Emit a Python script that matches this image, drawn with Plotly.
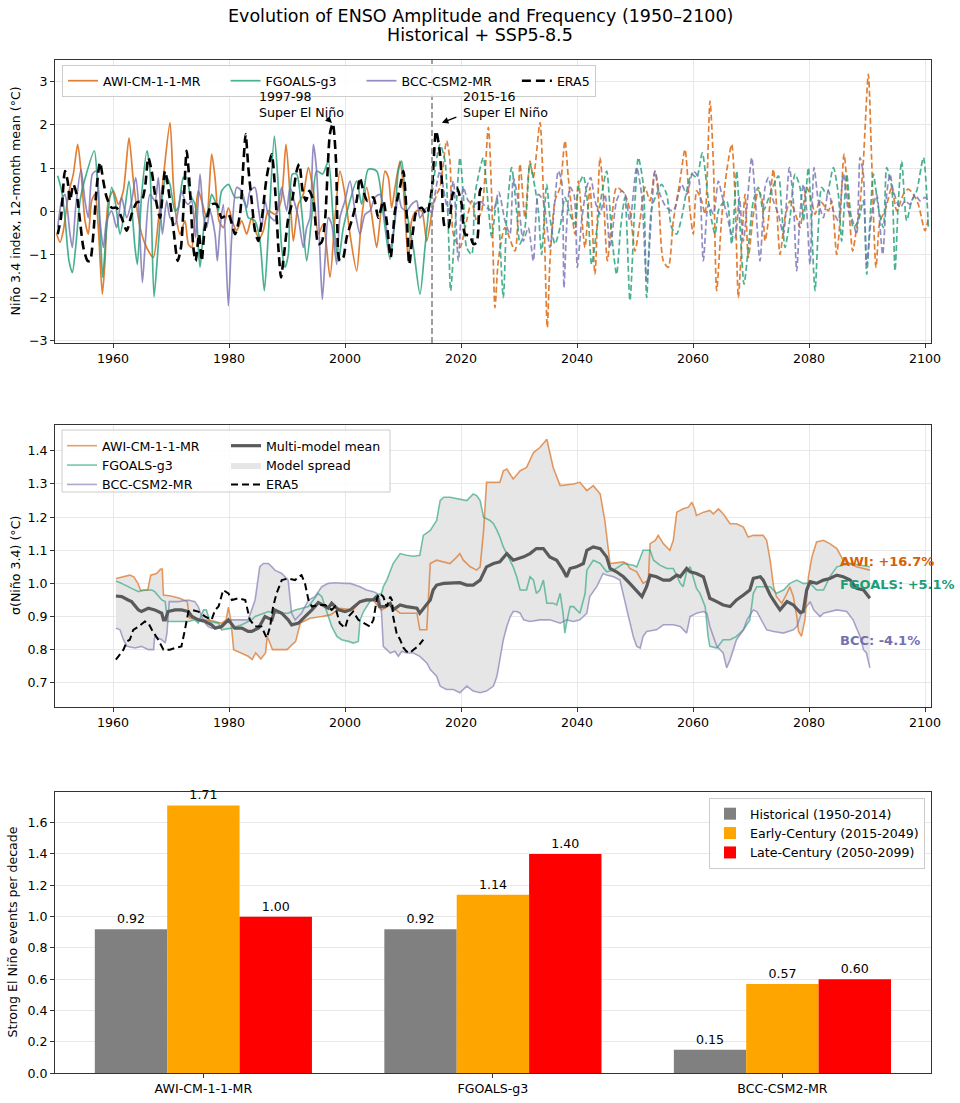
import plotly.graph_objects as go

# ---------------- DATA ----------------
# Top panel: Nino 3.4 index (12-month mean), (year, value)
era5_anom = [(1950.46,-0.53),(1951.03,-0.15),(1951.72,0.93),(1952.18,0.70),(1952.59,0.24),(1953.16,0.62),(1953.74,0.39),(1954.31,-0.22),(1954.89,-0.84),(1955.63,-1.15),(1956.03,-1.15),(1956.61,-0.53),(1957.18,0.55),(1957.76,1.13),(1958.33,0.70),(1958.91,0.32),(1959.77,0.08),(1960.63,0.08),(1961.49,-0.15),(1962.36,-0.45),(1963.22,-0.07),(1964.08,0.20),(1964.94,0.24),(1965.52,0.55),(1966.09,1.24),(1966.67,0.93),(1967.24,0.39),(1968.10,-0.15),(1968.97,0.93),(1969.83,0.24),(1970.40,-0.38),(1971.15,-1.15),(1971.72,-0.84),(1972.13,0.01),(1972.70,1.40),(1973.28,0.47),(1973.85,-0.84),(1974.25,-1.15),(1974.83,-0.53),(1975.29,-1.15),(1975.86,-0.38),(1977.01,0.16),(1977.87,0.16),(1978.74,-0.15),(1979.89,-0.07),(1981.03,-0.53),(1981.90,-0.07),(1982.47,1.09),(1982.87,1.78),(1983.33,1.01),(1983.91,0.24),(1984.48,-0.45),(1985.06,-0.69),(1985.63,-0.22),(1986.49,0.78),(1987.36,1.32),(1987.93,0.55),(1988.51,-0.84),(1988.97,-1.53),(1989.36,-1.15),(1990.23,-0.15),(1990.80,0.16),(1991.66,0.93),(1992.12,1.09),(1992.70,0.47),(1993.27,0.24),(1993.85,0.47),(1994.54,0.24),(1995.40,-0.76),(1995.97,-0.72),(1996.55,-0.22),(1997.41,1.80),(1997.90,2.03),(1998.45,1.16),(1998.85,-1.0),(1999.13,-1.15),(1999.71,-1.07),(2000.28,-0.61),(2001.15,-0.22),(2002.01,0.24),(2002.58,0.78),(2003.16,0.47),(2003.85,0.24),(2004.88,0.32),(2005.74,-0.15),(2006.61,0.24),(2007.18,-0.22),(2007.87,-1.07),(2008.62,0.01),(2009.48,0.55),(2010.06,0.93),(2010.63,-0.07),(2011.09,-1.23),(2011.66,-0.53),(2012.35,0.01),(2013.22,0.08),(2014.08,-0.07),(2014.94,0.47),(2015.69,1.86),(2016.26,1.47),(2016.66,0.78),(2017.24,-0.38),(2017.81,-0.38),(2018.56,0.39),(2019.25,0.55),(2020.11,0.16),(2020.69,-0.53),(2021.55,-0.57),(2022.12,-0.76),(2022.70,-0.72),(2023.27,0.47),(2023.56,0.55)]

awi_hist = [(1950.29,-0.53),(1950.86,-0.72),(1951.44,-0.45),(1952.30,0.39),(1953.16,0.86),(1953.91,1.55),(1954.48,0.93),(1955.17,-0.22),(1955.75,-0.53),(1956.32,0.24),(1956.90,0.39),(1957.47,-0.38),(1958.16,-1.92),(1958.62,-1.15),(1959.20,0.24),(1960.06,0.47),(1960.92,0.16),(1961.78,0.47),(1962.76,1.70),(1963.51,0.70),(1964.37,-0.15),(1964.94,-0.53),(1965.80,-0.84),(1966.95,-1.07),(1967.82,-0.22),(1968.68,0.78),(1969.83,2.05),(1970.40,0.62),(1970.98,-0.22),(1971.55,-0.53),(1972.41,-0.22),(1972.99,-0.76),(1973.56,-0.84),(1974.14,-0.15),(1974.71,0.47),(1975.29,0.24),(1976.15,-0.15),(1977.01,1.32),(1977.59,0.78),(1978.28,-0.22),(1979.02,-0.38),(1979.89,0.08),(1980.75,-0.30),(1981.32,-0.45),(1982.18,-0.22),(1983.05,-0.53),(1983.91,-0.15),(1984.77,-0.53),(1985.34,-0.61),(1985.92,-0.45),(1986.78,0.01),(1987.93,-0.07),(1988.97,0.24),(1989.83,1.55),(1990.52,0.39),(1991.09,-0.69),(1991.95,0.16),(1992.81,0.39),(1993.68,1.01),(1994.54,0.47),(1995.40,-0.53),(1996.26,-0.30),(1997.41,-1.53),(1998.27,-0.15),(1999.13,0.93),(1999.99,0.39),(2000.86,-0.53),(2002.01,-1.38),(2002.87,-0.15),(2003.73,0.55),(2004.59,-0.07),(2005.46,-0.84),(2006.03,-0.22),(2006.89,0.93),(2007.47,0.78),(2008.04,0.08),(2008.62,0.55),(2009.48,1.16),(2010.06,0.55),(2010.92,-1.15),(2011.49,-0.22),(2012.35,0.01),(2013.22,0.01),(2014.08,-0.69),(2015.00,0.01)]

awi_ssp = [(2015.00,0.01),(2015.80,0.39),(2016.38,0.55),(2017.53,1.63),(2018.10,1.16),(2018.68,-0.53),(2019.82,-0.84),(2020.97,-0.22),(2021.84,0.24),(2022.70,-0.22),(2023.56,0.01),(2024.71,1.94),(2025.28,0.39),(2025.86,-2.23),(2026.43,-1.15),(2027.58,-0.38),(2029.31,-0.92),(2030.17,1.09),(2031.03,-0.15),(2031.89,1.16),(2032.47,0.78),(2033.62,2.05),(2034.19,0.47),(2034.88,-2.69),(2035.34,-1.15),(2036.20,0.24),(2037.06,0.55),(2037.93,1.63),(2038.50,0.78),(2039.65,-0.53),(2040.23,0.70),(2041.37,-0.84),(2042.24,0.55),(2043.10,-1.46),(2043.96,1.24),(2044.54,0.39),(2045.23,-1.15),(2045.97,-0.22),(2046.83,0.55),(2048.27,0.39),(2049.13,0.01),(2050.00,-0.92),(2050.86,-0.22),(2051.72,0.55),(2052.58,0.24),(2053.44,0.93),(2054.02,0.39),(2054.88,-1.15),(2055.74,-1.30),(2056.61,-0.22),(2057.75,0.70),(2058.62,1.43),(2059.48,0.01),(2060.05,-0.53),(2060.63,0.47),(2061.49,0.24),(2062.07,-0.07),(2062.93,2.55),(2063.50,1.16),(2064.08,-1.84),(2064.95,-0.15),(2065.81,0.93),(2066.67,1.55),(2067.24,0.39),(2067.82,-2.00),(2068.39,-0.76),(2068.97,0.39),(2069.54,-1.07),(2070.41,-0.07),(2071.27,0.47),(2071.84,0.32),(2072.42,-0.69),(2072.99,-0.22),(2073.85,0.97),(2074.43,0.08),(2075.00,-1.00),(2075.87,-0.15),(2076.73,0.24),(2077.88,-0.15),(2078.45,-0.38),(2079.60,0.55),(2080.46,0.24),(2081.04,-0.07),(2081.90,0.24),(2083.34,0.01),(2083.91,0.24),(2084.77,-1.00),(2085.35,-0.22),(2086.04,1.32),(2086.79,0.24),(2087.53,-0.92),(2088.22,-0.38),(2088.68,0.01),(2089.37,1.16),(2090.23,3.17),(2090.81,1.16),(2091.55,-1.30),(2092.24,-0.22),(2093.11,0.01),(2094.26,0.55),(2095.12,0.01),(2096.27,0.39),(2097.13,0.51),(2097.99,0.39),(2098.85,0.16),(2100.00,-0.45),(2100.58,-0.15)]

fgoals_hist = [(1950.46,0.82),(1951.15,0.47),(1951.72,-0.15),(1952.41,-1.15),(1952.99,-1.42),(1953.56,-0.84),(1954.31,0.24),(1955.17,0.75),(1956.78,1.40),(1957.36,0.55),(1957.93,-0.84),(1958.22,-1.53),(1958.91,-0.38),(1959.77,0.55),(1960.46,0.16),(1961.21,-0.53),(1962.07,0.08),(1962.76,0.70),(1963.79,-0.84),(1964.20,-1.23),(1964.94,0.39),(1965.86,1.40),(1966.38,0.93),(1967.07,-1.98),(1967.82,-0.76),(1968.68,0.55),(1969.25,0.78),(1969.83,0.62),(1970.69,0.01),(1971.26,0.08),(1972.13,0.78),(1972.70,0.78),(1973.28,0.39),(1974.14,0.16),(1975.00,-1.30),(1975.86,-0.15),(1976.44,0.01),(1977.01,0.39),(1977.59,0.24),(1978.16,0.01),(1978.74,0.47),(1979.89,0.62),(1981.03,0.32),(1982.18,0.32),(1982.76,0.16),(1983.33,-0.15),(1984.48,-0.22),(1985.34,-0.69),(1986.09,-1.84),(1986.78,-0.53),(1987.82,1.74),(1988.51,0.55),(1989.08,-0.84),(1989.66,-1.30),(1990.23,-1.00),(1990.92,0.86),(1991.66,0.86),(1992.53,0.01),(1993.39,-1.15),(1994.25,-0.15),(1995.11,0.93),(1996.15,0.86),(1997.12,1.16),(1997.99,-0.22),(1998.85,-1.15),(1999.71,-0.38),(2000.86,0.24),(2002.01,0.70),(2002.87,0.16),(2004.02,0.97),(2005.46,0.93),(2006.61,-0.07),(2007.76,-1.11),(2008.62,-0.15),(2009.19,0.93),(2009.77,1.16),(2010.63,0.01),(2011.78,-0.84),(2012.93,-1.92),(2013.79,-0.84),(2014.65,0.24),(2015.00,0.40)]

fgoals_ssp = [(2015.00,0.40),(2016.38,1.55),(2017.24,1.16),(2017.81,-0.38),(2018.21,-1.84),(2018.96,-0.38),(2019.82,1.24),(2020.40,0.39),(2020.97,-0.84),(2021.84,-1.00),(2022.41,0.39),(2023.85,1.24),(2024.42,0.55),(2025.30,-0.60),(2026.20,0.30),(2027.29,-2.00),(2027.87,-0.15),(2028.73,1.01),(2029.59,0.01),(2030.17,-0.76),(2031.03,-0.38),(2031.89,1.09),(2032.75,0.55),(2033.33,0.01),(2033.90,-1.00),(2034.77,0.62),(2035.34,-0.15),(2036.20,-0.76),(2037.06,-0.38),(2037.93,0.32),(2038.79,-0.07),(2039.65,-0.30),(2040.23,0.55),(2041.09,0.82),(2041.78,0.24),(2042.52,-1.23),(2043.39,-0.45),(2044.25,0.39),(2045.11,0.93),(2045.97,-0.53),(2046.83,-1.46),(2047.52,-0.38),(2048.27,0.32),(2049.13,-2.07),(2050.00,0.24),(2050.57,1.24),(2051.43,0.62),(2052.01,-2.00),(2052.87,0.08),(2053.73,0.39),(2054.59,0.62),(2055.46,0.39),(2056.32,-0.38),(2057.18,-0.53),(2058.04,-0.15),(2058.90,0.47),(2059.77,0.86),(2060.63,0.78),(2061.60,1.35),(2062.65,0.24),(2063.22,-0.22),(2063.80,-0.53),(2064.37,0.01),(2064.95,0.16),(2065.81,0.24),(2066.67,-0.76),(2067.53,0.93),(2068.11,-0.38),(2068.80,-1.69),(2069.54,-0.84),(2070.41,0.24),(2071.27,0.55),(2072.13,0.01),(2073.28,0.39),(2074.72,0.82),(2075.29,0.01),(2075.87,-0.84),(2076.73,-0.15),(2077.59,0.86),(2078.45,0.55),(2079.03,-0.22),(2079.89,1.01),(2080.46,-0.38),(2081.04,-1.84),(2081.61,-0.38),(2082.19,0.55),(2083.05,0.39),(2084.20,1.01),(2085.06,0.39),(2085.63,-0.69),(2086.50,0.86),(2087.07,0.08),(2087.65,-0.38),(2088.51,-0.22),(2089.37,0.24),(2089.95,-1.46),(2090.52,-0.22),(2091.10,0.86),(2091.96,0.08),(2092.82,-0.38),(2093.39,1.01),(2094.26,0.55),(2094.83,-1.38),(2095.41,0.24),(2095.98,1.16),(2096.84,-0.22),(2097.70,0.24),(2098.57,0.47),(2099.72,1.24),(2100.58,-0.38)]

bcc_hist = [(1950.46,-0.38),(1951.15,0.24),(1951.72,0.39),(1952.59,-0.53),(1952.99,-0.84),(1953.56,0.08),(1954.48,0.97),(1955.17,0.24),(1955.75,-0.15),(1956.44,0.86),(1957.13,0.93),(1957.76,-0.22),(1958.33,-0.84),(1958.91,-0.22),(1959.77,0.01),(1960.63,-0.38),(1961.49,0.32),(1962.36,-0.15),(1963.22,0.24),(1963.91,0.78),(1964.37,0.24),(1965.06,-1.65),(1965.52,-0.84),(1966.38,0.39),(1967.24,0.24),(1967.82,0.78),(1968.51,-0.53),(1969.25,0.24),(1969.83,-0.15),(1970.69,-0.30),(1971.84,0.47),(1972.41,0.24),(1972.99,0.16),(1973.56,0.24),(1974.25,-0.61),(1975.00,0.86),(1975.57,-0.07),(1976.15,-0.38),(1976.72,0.01),(1977.59,-0.53),(1977.99,-1.15),(1978.45,-0.38),(1979.02,0.16),(1979.89,-2.19),(1980.46,-0.61),(1981.32,0.55),(1982.18,0.47),(1983.05,0.08),(1983.62,0.47),(1984.48,0.55),(1985.06,0.08),(1985.63,-0.38),(1986.21,0.24),(1986.78,-0.07),(1987.93,-0.22),(1988.51,0.16),(1989.08,0.55),(1989.94,0.01),(1990.52,0.55),(1991.38,0.16),(1991.95,-0.15),(1992.81,-0.84),(1993.39,-0.38),(1993.96,-0.15),(1994.54,1.55),(1995.11,0.93),(1995.69,-1.00),(1996.09,-2.04),(1996.55,-1.15),(1997.12,-0.15),(1997.70,-0.30),(1998.56,-1.23),(1999.13,-0.15),(1999.99,0.24),(2000.86,0.70),(2001.72,0.01),(2002.58,-0.53),(2003.45,-0.07),(2004.31,0.01),(2005.17,0.32),(2006.03,0.39),(2006.89,-0.15),(2007.76,-0.92),(2008.62,-0.22),(2009.19,0.39),(2009.77,0.08),(2010.63,0.01),(2011.49,0.16),(2012.35,0.24),(2012.93,-0.15),(2014.08,0.08),(2015.00,-0.05)]

bcc_ssp = [(2015.00,-0.05),(2016.38,0.93),(2017.24,0.32),(2017.81,0.01),(2018.68,0.70),(2019.54,-1.15),(2020.40,0.55),(2021.26,0.24),(2022.41,0.16),(2023.27,0.24),(2024.42,0.08),(2025.57,0.01),(2026.50,0.45),(2027.58,-0.22),(2028.44,-0.53),(2029.02,0.78),(2029.88,0.24),(2030.74,-0.69),(2031.61,-0.38),(2032.47,-1.15),(2033.33,0.39),(2034.19,0.24),(2035.34,-0.84),(2036.78,0.93),(2037.35,0.70),(2037.75,-1.77),(2038.21,-0.38),(2038.79,0.55),(2039.48,0.39),(2040.05,-1.30),(2040.80,-0.22),(2041.66,0.55),(2042.35,0.78),(2043.10,0.24),(2043.96,-0.07),(2044.82,0.39),(2045.69,-0.84),(2046.83,0.24),(2047.70,0.47),(2048.27,0.39),(2049.13,-0.22),(2050.28,1.01),(2051.14,0.39),(2052.01,-1.61),(2052.87,0.01),(2053.44,0.93),(2054.31,0.39),(2055.46,0.08),(2056.61,0.01),(2058.04,0.62),(2058.90,0.39),(2060.05,0.93),(2060.92,0.78),(2061.78,-1.15),(2062.65,0.16),(2063.51,-0.07),(2064.37,0.70),(2064.95,0.39),(2065.81,-0.07),(2066.67,-0.53),(2067.24,-0.61),(2067.99,0.32),(2068.68,-0.69),(2070.12,1.24),(2070.69,0.39),(2071.55,-1.15),(2072.42,0.55),(2072.99,0.78),(2073.85,0.24),(2074.72,-0.07),(2075.58,-0.53),(2076.61,1.01),(2077.30,0.24),(2077.88,-1.38),(2078.45,-0.07),(2079.03,0.62),(2079.60,0.01),(2080.17,-1.23),(2080.87,1.01),(2081.61,0.24),(2082.48,-0.15),(2083.34,0.47),(2084.20,0.01),(2085.06,-0.22),(2085.92,0.86),(2086.79,0.01),(2087.53,-0.22),(2088.22,-0.53),(2088.80,1.24),(2089.37,0.86),(2089.95,-1.23),(2090.81,-0.07),(2091.67,0.39),(2092.70,-1.00),(2093.39,0.39),(2093.97,0.86),(2094.54,0.47),(2095.70,0.08),(2096.56,0.24),(2097.42,0.16),(2098.28,0.39),(2099.14,0.24),(2100.00,0.32),(2100.58,0.24)]

# Middle panel: running std of Nino 3.4, (year, sigma)
awi_sigma = [(1960.5,1.015),(1961.5,1.02),(1962.9,1.025),(1963.6,1.02),(1964.3,1.0),(1964.8,0.978),(1966.0,0.98),(1966.5,1.025),(1967.5,1.03),(1968.2,1.043),(1968.5,1.043),(1968.7,0.965),(1970.0,0.962),(1971.5,0.955),(1972.8,0.945),(1973.2,0.895),(1975.0,0.892),(1977.0,0.888),(1978.7,0.88),(1979.5,0.89),(1979.9,0.928),(1980.3,0.89),(1980.8,0.80),(1982.0,0.79),(1983.3,0.78),(1984.0,0.77),(1984.6,0.79),(1985.5,0.772),(1986.3,0.79),(1986.6,0.84),(1987.5,0.80),(1990.0,0.80),(1991.5,0.825),(1992.3,0.88),(1994.0,0.895),(1996.0,0.90),(1997.5,0.905),(1999.1,0.925),(2001.4,0.92),(2002.6,0.945),(2004.9,0.95),(2005.5,0.935),(2006.3,0.92),(2007.8,0.935),(2009.5,0.91),(2012.4,0.91),(2012.9,0.86),(2014.1,0.86),(2014.5,1.01),(2014.7,1.06),(2015.8,1.07),(2018.1,1.06),(2019.3,1.08),(2019.8,1.09),(2020.4,1.07),(2021.6,1.05),(2022.7,1.04),(2023.3,1.05),(2023.9,1.16),(2024.4,1.305),(2026.7,1.305),(2027.3,1.34),(2027.9,1.345),(2029.0,1.315),(2030.2,1.34),(2031.3,1.35),(2032.5,1.395),(2033.6,1.41),(2034.8,1.435),(2035.3,1.40),(2035.9,1.35),(2037.1,1.295),(2039.4,1.30),(2040.5,1.305),(2041.7,1.28),(2042.8,1.295),(2044.0,1.27),(2044.8,1.19),(2045.7,1.06),(2048.0,1.065),(2048.6,1.06),(2049.1,1.045),(2050.3,1.035),(2051.4,1.0),(2052.3,1.01),(2052.6,1.12),(2053.5,1.13),(2054.0,1.145),(2054.9,1.12),(2056.0,1.10),(2056.6,1.13),(2057.2,1.215),(2058.3,1.225),(2059.2,1.23),(2059.8,1.245),(2060.3,1.225),(2060.6,1.205),(2061.8,1.215),(2062.9,1.22),(2063.5,1.21),(2064.4,1.225),(2065.2,1.21),(2066.4,1.18),(2067.5,1.18),(2068.7,1.17),(2069.5,1.14),(2070.4,1.145),(2072.1,1.145),(2072.7,1.13),(2073.3,1.07),(2073.9,0.99),(2074.4,0.96),(2075.3,0.94),(2076.2,0.97),(2076.7,0.99),(2077.3,0.96),(2077.9,0.90),(2078.2,0.855),(2078.7,0.84),(2079.3,0.89),(2079.9,1.02),(2080.5,1.08),(2081.3,1.125),(2082.5,1.13),(2083.6,1.12),(2084.8,1.105),(2085.9,1.07),(2088.2,1.05),(2090.5,1.04)]

fgoals_sigma = [(1960.5,1.007),(1961.5,1.0),(1963.2,0.985),(1964.4,0.975),(1965.2,0.98),(1966.7,0.98),(1967.2,0.975),(1968.4,0.95),(1969.0,0.945),(1969.4,0.885),(1973.0,0.885),(1974.1,0.89),(1974.7,0.88),(1975.6,0.92),(1976.1,0.92),(1976.7,0.885),(1978.2,0.88),(1978.7,0.86),(1980.5,0.865),(1982.2,0.875),(1983.9,0.89),(1984.5,0.90),(1986.8,0.915),(1987.9,0.91),(1990.2,0.91),(1991.4,0.92),(1993.7,0.93),(1995.4,0.97),(1996.0,0.96),(1996.6,0.93),(1997.1,0.90),(1997.7,0.87),(1998.6,0.84),(1999.4,0.83),(2000.6,0.825),(2001.4,0.82),(2002.3,0.825),(2002.6,0.89),(2003.2,0.915),(2004.3,0.945),(2005.5,0.965),(2006.3,0.97),(2006.6,0.99),(2007.2,1.01),(2008.3,1.06),(2009.5,1.09),(2010.6,1.085),(2011.8,1.082),(2012.9,1.085),(2013.5,1.145),(2014.7,1.16),(2015.8,1.19),(2016.4,1.25),(2017.0,1.26),(2018.1,1.26),(2019.3,1.255),(2021.0,1.25),(2022.1,1.27),(2022.7,1.265),(2023.3,1.25),(2023.9,1.20),(2025.0,1.19),(2025.6,1.18),(2026.2,1.16),(2026.7,1.14),(2027.3,1.11),(2027.9,1.09),(2029.0,1.05),(2029.6,1.02),(2030.2,0.98),(2031.3,0.98),(2031.9,1.02),(2032.5,1.01),(2033.0,0.97),(2033.6,0.98),(2034.2,1.01),(2034.8,0.94),(2035.9,0.94),(2036.5,0.935),(2037.1,0.97),(2037.6,0.91),(2037.9,0.85),(2038.2,0.88),(2038.8,0.93),(2039.4,0.93),(2040.5,0.91),(2041.4,0.97),(2041.7,1.04),(2042.8,1.07),(2044.0,1.06),(2045.1,1.035),(2046.3,1.04),(2048.0,1.06),(2049.7,1.055),(2050.3,1.05),(2051.4,1.10),(2052.6,1.10),(2053.2,1.07),(2054.3,1.055),(2055.5,1.045),(2056.6,1.045),(2057.8,1.0),(2058.3,0.99),(2058.9,1.035),(2059.5,1.05),(2060.6,0.985),(2061.2,0.97),(2062.1,0.93),(2062.6,0.84),(2062.9,0.81),(2064.1,0.805),(2065.2,0.83),(2066.4,0.83),(2067.5,0.84),(2068.7,0.86),(2069.8,0.89),(2070.4,0.97),(2071.0,0.99),(2073.3,0.99),(2074.4,0.97),(2075.6,0.98),(2076.7,1.0),(2077.9,1.01),(2079.0,1.0),(2080.2,1.0),(2081.3,0.98),(2082.5,0.98),(2083.6,1.02),(2084.8,1.05),(2087.1,1.06),(2090.5,1.05)]

bcc_sigma = [(1960.5,0.865),(1961.2,0.86),(1961.8,0.83),(1962.4,0.81),(1963.8,0.805),(1964.9,0.81),(1966.1,0.80),(1967.0,0.80),(1967.2,0.84),(1968.4,0.83),(1969.0,0.82),(1969.3,0.85),(1969.7,0.945),(1971.3,0.945),(1973.0,0.95),(1974.1,0.945),(1974.7,0.93),(1975.3,0.90),(1975.9,0.88),(1976.4,0.87),(1977.0,0.865),(1978.7,0.865),(1979.9,0.89),(1981.0,0.89),(1982.2,0.892),(1983.3,0.89),(1984.5,0.95),(1985.3,1.05),(1985.9,1.06),(1986.8,1.06),(1987.4,1.05),(1987.9,1.04),(1989.1,1.03),(1989.7,1.02),(1990.2,1.01),(1990.8,0.91),(1991.4,0.89),(1992.5,0.91),(1993.7,0.95),(1994.8,0.96),(1996.0,0.99),(1997.1,1.0),(1998.3,1.002),(2000.0,1.0),(2000.9,1.0),(2002.6,0.99),(2003.7,0.98),(2004.9,0.975),(2005.5,0.97),(2006.0,0.95),(2006.3,0.91),(2006.6,0.81),(2007.2,0.80),(2007.8,0.79),(2008.6,0.795),(2009.2,0.78),(2009.8,0.795),(2010.6,0.79),(2011.8,0.79),(2012.9,0.78),(2014.1,0.76),(2014.7,0.74),(2015.8,0.72),(2016.4,0.69),(2017.5,0.68),(2018.7,0.68),(2019.8,0.67),(2021.0,0.69),(2022.1,0.675),(2023.3,0.67),(2024.4,0.675),(2025.6,0.69),(2026.2,0.72),(2026.7,0.77),(2027.3,0.83),(2027.9,0.87),(2028.5,0.90),(2029.0,0.915),(2029.6,0.915),(2030.2,0.91),(2030.8,0.89),(2031.9,0.885),(2033.6,0.89),(2035.3,0.89),(2037.1,0.88),(2038.2,0.89),(2039.4,0.885),(2040.5,0.89),(2041.7,0.91),(2042.2,0.96),(2043.4,0.99),(2044.5,1.03),(2045.1,1.025),(2046.3,1.02),(2047.4,1.01),(2048.6,0.92),(2049.7,0.84),(2050.3,0.81),(2050.9,0.805),(2051.4,0.84),(2052.0,0.855),(2053.7,0.86),(2054.9,0.875),(2056.6,0.875),(2057.8,0.87),(2058.9,0.85),(2059.5,0.90),(2060.6,0.91),(2061.8,0.915),(2062.4,0.91),(2062.9,0.87),(2064.1,0.81),(2065.2,0.79),(2065.8,0.745),(2066.4,0.77),(2067.5,0.83),(2068.7,0.86),(2069.3,0.89),(2070.4,0.92),(2071.0,0.915),(2072.1,0.88),(2072.7,0.86),(2073.9,0.855),(2075.6,0.85),(2077.3,0.86),(2077.9,0.87),(2078.5,0.90),(2079.0,0.92),(2079.6,0.93),(2080.2,0.945),(2080.8,0.92),(2081.9,0.90),(2082.5,0.91),(2083.6,0.915),(2084.8,0.92),(2086.5,0.915),(2087.6,0.89),(2088.8,0.84),(2089.4,0.80),(2089.9,0.79),(2090.5,0.745)]

mean_sigma = [(1960.5,0.962),(1961.5,0.96),(1962.6,0.95),(1963.2,0.945),(1964.4,0.92),(1964.9,0.915),(1966.1,0.925),(1967.2,0.92),(1968.4,0.91),(1968.7,0.89),(1969.0,0.89),(1969.5,0.915),(1970.7,0.92),(1971.8,0.92),(1973.0,0.915),(1973.6,0.90),(1974.7,0.89),(1975.9,0.885),(1977.0,0.875),(1977.6,0.865),(1978.7,0.87),(1979.9,0.89),(1981.0,0.865),(1982.2,0.865),(1983.3,0.855),(1983.9,0.855),(1985.1,0.865),(1986.2,0.90),(1987.4,0.89),(1987.9,0.92),(1989.1,0.91),(1990.2,0.89),(1990.8,0.875),(1992.0,0.88),(1993.1,0.90),(1994.3,0.92),(1995.4,0.942),(1996.0,0.935),(1997.1,0.925),(1997.7,0.94),(1998.9,0.92),(2000.0,0.915),(2000.9,0.92),(2002.6,0.945),(2003.7,0.95),(2004.9,0.95),(2005.5,0.96),(2006.0,0.93),(2006.9,0.93),(2007.8,0.94),(2008.3,0.92),(2009.5,0.935),(2010.6,0.93),(2012.4,0.925),(2012.9,0.91),(2013.8,0.93),(2014.7,0.95),(2015.2,0.98),(2015.8,0.995),(2017.0,1.0),(2018.1,1.0),(2019.8,1.002),(2021.0,0.995),(2022.1,0.995),(2023.3,1.01),(2024.4,1.05),(2025.6,1.06),(2026.7,1.065),(2027.9,1.09),(2029.0,1.07),(2030.8,1.08),(2031.9,1.09),(2033.0,1.105),(2034.2,1.105),(2035.3,1.08),(2036.5,1.07),(2037.6,1.04),(2038.2,1.02),(2038.8,1.045),(2039.9,1.05),(2041.1,1.06),(2041.7,1.10),(2042.8,1.11),(2044.0,1.105),(2045.1,1.08),(2045.7,1.045),(2046.8,1.035),(2048.0,1.02),(2049.1,1.0),(2050.3,0.975),(2051.2,0.96),(2052.0,0.99),(2052.6,1.025),(2053.7,1.02),(2054.9,1.01),(2056.0,1.01),(2057.2,1.025),(2057.8,1.02),(2058.3,1.03),(2058.9,1.045),(2059.5,1.035),(2060.6,1.03),(2061.8,1.02),(2062.9,0.955),(2064.1,0.945),(2065.2,0.935),(2066.4,0.93),(2066.9,0.94),(2067.5,0.95),(2068.7,0.965),(2069.8,0.98),(2070.4,1.015),(2071.6,1.02),(2072.1,1.01),(2073.3,0.965),(2074.4,0.935),(2075.0,0.92),(2076.2,0.945),(2077.3,0.935),(2078.5,0.912),(2079.0,0.915),(2079.6,0.98),(2080.2,1.005),(2081.3,1.0),(2082.5,1.01),(2083.6,1.015),(2084.8,1.025),(2085.9,1.02),(2087.1,1.01),(2088.2,0.985),(2089.4,0.98),(2090.5,0.955)]

era5_sigma = [(1960.5,0.77),(1961.2,0.785),(1961.8,0.80),(1962.4,0.825),(1962.9,0.83),(1963.5,0.86),(1964.4,0.87),(1965.5,0.885),(1966.1,0.88),(1966.7,0.86),(1967.8,0.83),(1968.7,0.80),(1969.8,0.80),(1970.7,0.805),(1971.8,0.81),(1972.4,0.86),(1973.0,0.915),(1973.6,0.92),(1974.7,0.915),(1975.9,0.90),(1977.0,0.89),(1977.6,0.92),(1978.2,0.93),(1979.0,0.98),(1979.9,0.97),(1980.5,0.95),(1981.6,0.955),(1982.8,0.95),(1983.6,0.89),(1984.5,0.87),(1985.6,0.87),(1986.5,0.835),(1987.1,0.87),(1987.6,0.93),(1988.2,0.97),(1989.1,1.01),(1990.2,1.015),(1991.4,1.01),(1992.0,1.02),(1992.5,1.025),(1993.1,1.0),(1993.7,0.95),(1994.3,0.93),(1995.4,0.935),(1996.6,0.935),(1997.7,0.92),(1998.3,0.93),(1999.1,0.88),(2000.0,0.865),(2000.6,0.90),(2001.4,0.915),(2002.3,0.89),(2003.2,0.88),(2004.3,0.87),(2004.9,0.89),(2005.5,0.955),(2006.0,0.97),(2006.6,0.96),(2007.2,0.93),(2007.8,0.96),(2008.1,0.95),(2008.3,0.90),(2008.9,0.85),(2009.5,0.83),(2010.1,0.805),(2010.6,0.795),(2011.2,0.79),(2011.8,0.80),(2012.6,0.81),(2013.5,0.83)]

sigma_labels = ["AWI: +16.7%", "FGOALS: +5.1%", "BCC: -4.1%"]

# Bottom panel: strong El Nino events per decade
models = ["AWI-CM-1-1-MR", "FGOALS-g3", "BCC-CSM2-MR"]
period_names = ["Historical (1950-2014)", "Early-Century (2015-2049)", "Late-Century (2050-2099)"]
freq_hist = [0.92, 0.92, 0.15]
freq_early = [1.71, 1.14, 0.57]
freq_late = [1.00, 1.40, 0.60]

# ---------------- STYLE ----------------
FONT = "DejaVu Sans"
FS = 12.6
C_AWI, C_FG, C_BCC = "#d95f02", "#1b9e77", "#7570b3"
GAP = "\u00a0" * 5  # extra spacing between horizontal legend entries

def rgba(hexc, a):
    h = hexc.lstrip("#")
    return "rgba(%d,%d,%d,%.2f)" % (int(h[0:2], 16), int(h[2:4], 16), int(h[4:6], 16), a)

def xs(p):
    return [a for a, _ in p]

def ys(p):
    return [b for _, b in p]

fig = go.Figure()

# ---- top panel ----
for name, col, hist, ssp in [("AWI-CM-1-1-MR", C_AWI, awi_hist, awi_ssp),
                             ("FGOALS-g3", C_FG, fgoals_hist, fgoals_ssp),
                             ("BCC-CSM2-MR", C_BCC, bcc_hist, bcc_ssp)]:
    fig.add_trace(go.Scatter(x=xs(hist), y=ys(hist), mode="lines", name=name + GAP,
                             line=dict(color=rgba(col, 0.8), width=1.7, shape="spline", smoothing=0.7),
                             legend="legend", xaxis="x", yaxis="y"))
    fig.add_trace(go.Scatter(x=xs(ssp), y=ys(ssp), mode="lines", name=name, showlegend=False,
                             line=dict(color=rgba(col, 0.8), width=1.7, dash="6px,3px", shape="spline", smoothing=0.7),
                             xaxis="x", yaxis="y"))
fig.add_trace(go.Scatter(x=xs(era5_anom), y=ys(era5_anom), mode="lines", name="ERA5",
                         line=dict(color="black", width=2.6, dash="9px,5px", shape="spline", smoothing=0.7),
                         legend="legend", xaxis="x", yaxis="y"))

# ---- middle panel: spread (union of pairwise fills = min..max envelope) ----
SPREAD = "rgb(230,230,230)"
pairs = [(awi_sigma, fgoals_sigma), (fgoals_sigma, bcc_sigma), (awi_sigma, bcc_sigma)]
first = True
for a, b in pairs:
    fig.add_trace(go.Scatter(x=xs(a), y=ys(a), mode="lines", line=dict(width=0, color=SPREAD),
                             showlegend=False, hoverinfo="skip", xaxis="x2", yaxis="y2"))
    fig.add_trace(go.Scatter(x=xs(b), y=ys(b), mode="lines", line=dict(width=0, color=SPREAD),
                             fill="tonexty", fillcolor=SPREAD, name="Model spread",
                             showlegend=first, legend="legend3", legendrank=2,
                             hoverinfo="skip", xaxis="x2", yaxis="y2"))
    first = False

for name, col, ser, rk in [("AWI-CM-1-1-MR", C_AWI, awi_sigma, 1), ("FGOALS-g3", C_FG, fgoals_sigma, 2),
                           ("BCC-CSM2-MR", C_BCC, bcc_sigma, 3)]:
    fig.add_trace(go.Scatter(x=xs(ser), y=ys(ser), mode="lines", name=name,
                             line=dict(color=rgba(col, 0.6), width=1.6),
                             legend="legend2", legendrank=rk, xaxis="x2", yaxis="y2"))
fig.add_trace(go.Scatter(x=xs(mean_sigma), y=ys(mean_sigma), mode="lines", name="Multi-model mean",
                         line=dict(color="#5a5a5a", width=3.2), legend="legend3", legendrank=1,
                         xaxis="x2", yaxis="y2"))
fig.add_trace(go.Scatter(x=xs(era5_sigma), y=ys(era5_sigma), mode="lines", name="ERA5",
                         line=dict(color="black", width=2, dash="7px,4px"), legend="legend3", legendrank=3,
                         xaxis="x2", yaxis="y2"))

# ---- bottom panel ----
for name, col, vals in [(period_names[0], "#808080", freq_hist), (period_names[1], "#FFA500", freq_early),
                        (period_names[2], "#FF0000", freq_late)]:
    fig.add_trace(go.Bar(x=list(range(len(models))), y=vals, name=name, marker=dict(color=col, line=dict(width=0)),
                         text=["%.2f" % v for v in vals], textposition="outside", cliponaxis=False,
                         constraintext="none", textfont=dict(family=FONT, size=FS, color="black"),
                         legend="legend4", xaxis="x3", yaxis="y3"))

# ---------------- LAYOUT ----------------
XD = [55 / 960, 930.8 / 960]
H = 1103.0
def dom(top_px, bot_px):
    return [1 - bot_px / H, 1 - top_px / H]

axis_common = dict(showline=True, mirror=True, linecolor="#333333", linewidth=1, ticks="outside",
                   ticklen=4, tickcolor="#333333", zeroline=False, gridcolor="#e8e8e8", gridwidth=1,
                   tickfont=dict(family=FONT, size=FS, color="black"), automargin=False)

tick_years = list(range(1960, 2101, 20))
fig.update_layout(
    width=960, height=1103, margin=dict(l=0, r=0, t=0, b=0),
    paper_bgcolor="white", plot_bgcolor="white",
    font=dict(family=FONT, size=FS, color="black"),
    barmode="group", bargap=0.25, bargroupgap=0,
    xaxis=dict(domain=XD, anchor="y", range=[1950, 2101], tickvals=tick_years, showgrid=True, **axis_common),
    yaxis=dict(domain=dom(60, 343), anchor="x", range=[-3.05, 3.5], dtick=1, showgrid=True, **axis_common),
    xaxis2=dict(domain=XD, anchor="y2", range=[1950, 2101], tickvals=tick_years, showgrid=True, **axis_common),
    yaxis2=dict(domain=dom(425, 707), anchor="x2", range=[0.627, 1.478], dtick=0.1, tickformat=".1f",
                showgrid=True, **axis_common),
    xaxis3=dict(domain=XD, anchor="y3", range=[-0.5125, 2.5125], tickvals=[0, 1, 2], ticktext=models,
                showgrid=False, **axis_common),
    yaxis3=dict(domain=dom(792, 1073.3), anchor="x3", range=[0, 1.7955], dtick=0.2, tickformat=".1f",
                showgrid=True, **axis_common),
    legend=dict(orientation="h", x=62 / 960, y=1 - 65 / H, xanchor="left", yanchor="top",
                bgcolor="rgba(255,255,255,0.85)", bordercolor="#cccccc", borderwidth=1,
                font=dict(family=FONT, size=FS), itemwidth=30, traceorder="normal"),
    legend2=dict(orientation="v", x=62 / 960, y=1 - 431 / H, xanchor="left", yanchor="top",
                 bgcolor="rgba(0,0,0,0)", borderwidth=0, font=dict(family=FONT, size=FS), itemwidth=30,
                 tracegroupgap=0, traceorder="normal"),
    legend3=dict(orientation="v", x=226 / 960, y=1 - 431 / H, xanchor="left", yanchor="top",
                 bgcolor="rgba(0,0,0,0)", borderwidth=0, font=dict(family=FONT, size=FS), itemwidth=30,
                 tracegroupgap=0, traceorder="normal"),
    legend4=dict(orientation="v", x=925 / 960, y=1 - 798 / H, xanchor="right", yanchor="top",
                 bgcolor="rgba(255,255,255,0.85)", bordercolor="#cccccc", borderwidth=1,
                 font=dict(family=FONT, size=FS), itemwidth=30, tracegroupgap=0, traceorder="normal"),
)

# middle legend frame
fig.add_shape(type="rect", xref="paper", yref="paper", x0=62 / 960, x1=390 / 960,
              y0=1 - 492 / H, y1=1 - 430 / H, fillcolor="rgba(255,255,255,0.85)",
              line=dict(color="#cccccc", width=1), layer="above")

# 2015 divider in top panel
fig.add_shape(type="line", xref="x", yref="y domain", x0=2015, x1=2015, y0=0, y1=1,
              line=dict(color="#808080", width=1.5, dash="6px,3px"))

ann = []
# titles
ann.append(dict(text="Evolution of ENSO Amplitude and Frequency (1950\u20132100)", xref="paper", yref="paper",
                x=0.5, y=1 - 16 / H, xanchor="center", yanchor="middle", showarrow=False,
                font=dict(family=FONT, size=17.5, color="black")))
ann.append(dict(text="Historical + SSP5-8.5", xref="paper", yref="paper",
                x=0.5, y=1 - 35 / H, xanchor="center", yanchor="middle", showarrow=False,
                font=dict(family=FONT, size=17.5, color="black")))
# y-axis titles
for txt, yc, xp in [("Niño 3.4 index, 12-month mean (°C)", (60 + 343) / 2, 15),
                    ("σ(Niño 3.4) (°C)", (425 + 707) / 2, 15),
                    ("Strong El Niño events per decade", (792 + 1073) / 2, 12)]:
    ann.append(dict(text=txt, xref="paper", yref="paper", x=xp / 960, y=1 - yc / H, textangle=-90,
                    xanchor="center", yanchor="middle", showarrow=False,
                    font=dict(family=FONT, size=FS, color="black")))
# event labels
for txt, x0 in [("1997-98<br>Super El Niño", 1984.9), ("2015-16<br>Super El Niño", 2020.0)]:
    ann.append(dict(text=txt, xref="x", yref="y", x=x0, y=2.47, xanchor="left", yanchor="middle",
                    align="left", showarrow=False, font=dict(family=FONT, size=FS, color="black")))
for xt, yt, axp, ayp in [(1997.75, 2.04, -7, -7), (2016.7, 2.05, 16, -6)]:
    ann.append(dict(text="", xref="x", yref="y", x=xt, y=yt, ax=axp, ay=ayp, showarrow=True,
                    arrowhead=2, arrowsize=1, arrowwidth=1.3, arrowcolor="black"))
# sigma change labels
for txt, col, yv in [(sigma_labels[0], C_AWI, 1.065), (sigma_labels[1], C_FG, 0.997), (sigma_labels[2], C_BCC, 0.827)]:
    ann.append(dict(text="<b>%s</b>" % txt, xref="x2", yref="y2", x=2085.0, y=yv, xanchor="left",
                    yanchor="middle", showarrow=False, font=dict(family=FONT, size=13, color=col)))
fig.update_layout(annotations=ann)

fig.write_html("out.html")
